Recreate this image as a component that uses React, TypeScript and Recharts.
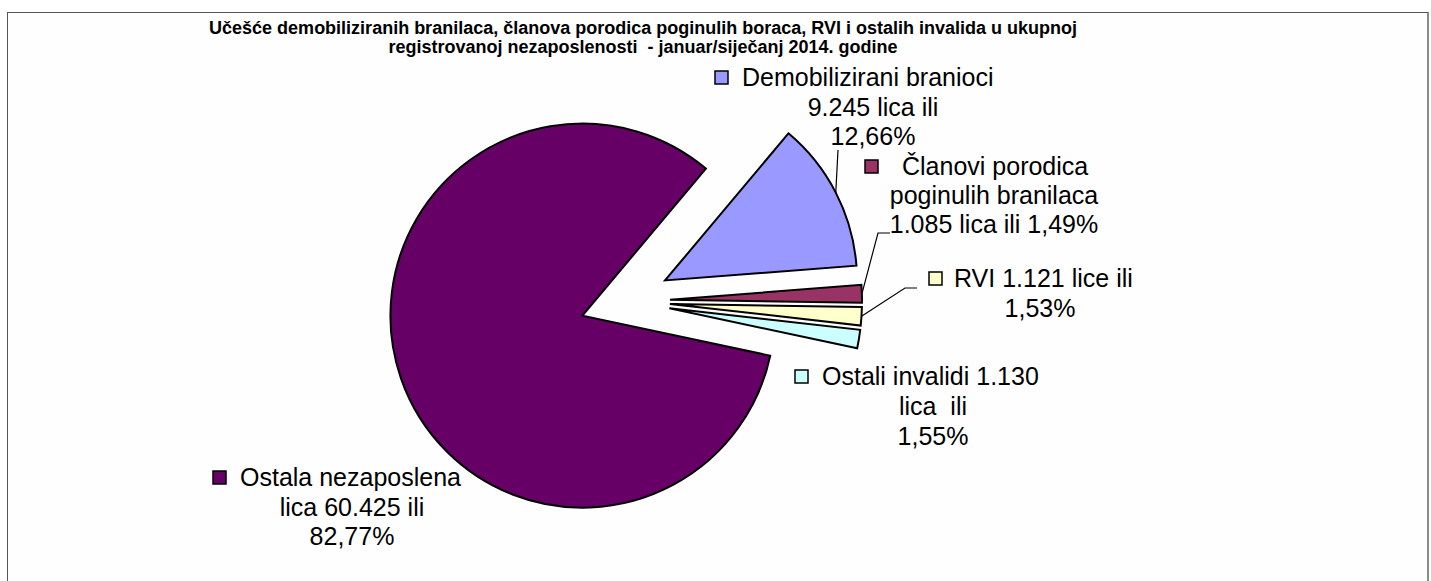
import React from 'react';
import { PieChart, Pie, Cell, Sector, Tooltip } from 'recharts';

// ---------- data ----------
const categories = [
  'Demobilizirani branioci',
  'Članovi porodica poginulih branilaca',
  'RVI',
  'Ostali invalidi',
  'Ostala nezaposlena lica',
];
const values = [9245, 1085, 1121, 1130, 60425];
const labelLines: string[][] = [
  ['Demobilizirani branioci', '9.245 lica ili', '12,66%'],
  ['Članovi porodica', 'poginulih branilaca', '1.085 lica ili 1,49%'],
  ['RVI 1.121 lice ili', '1,53%'],
  ['Ostali invalidi 1.130', 'lica  ili', '1,55%'],
  ['Ostala nezaposlena', 'lica 60.425 ili', '82,77%'],
];
const titleLines = [
  'Učešće demobiliziranih branilaca, članova porodica poginulih boraca, RVI i ostalih invalida u ukupnoj',
  'registrovanoj nezaposlenosti  - januar/siječanj 2014. godine',
];
const colors = ['#9999FF', '#993366', '#FFFFCC', '#CCFFFF', '#660066'];

const data = categories.map((name, i) => ({ name, value: values[i] }));

// ---------- layout ----------
const W = 1431;
const H = 581;
const CX = 625;
const CY = 301;
const R = 192;
const EXPLODE = 45;
const RAD = Math.PI / 180;
const FONT = '"Liberation Sans", Arial, Helvetica, sans-serif';
const LABEL_SIZE = 25;

type Layout = {
  keyX: number;
  baseline: number;
  firstX: number;
  centerX: number;
  lineH: number;
  leader: number[][] | null;
};
const labelLayout: Layout[] = [
  { keyX: 715, baseline: 86, firstX: 742, centerX: 873, lineH: 29.5, leader: [[838, 150]] },
  { keyX: 865, baseline: 175, firstX: 902, centerX: 994, lineH: 29, leader: [[890, 233], [878, 233]] },
  { keyX: 929, baseline: 287, firstX: 954, centerX: 1040, lineH: 29.5, leader: [[917, 288], [905, 288]] },
  { keyX: 795, baseline: 385, firstX: 822, centerX: 933, lineH: 30, leader: null },
  { keyX: 213, baseline: 486, firstX: 240, centerX: 352, lineH: 29.5, leader: null },
];

const offsetFor = (midAngle: number) => {
  const a = -midAngle * RAD;
  return { dx: EXPLODE * Math.cos(a), dy: EXPLODE * Math.sin(a) };
};

const ExplodedSector = (props: any) => {
  const { cx, cy, midAngle } = props;
  const { dx, dy } = offsetFor(midAngle);
  return (
    <Sector
      cx={cx + dx}
      cy={cy + dy}
      innerRadius={props.innerRadius}
      outerRadius={props.outerRadius}
      startAngle={props.startAngle}
      endAngle={props.endAngle}
      fill={props.fill}
      stroke="#000"
      strokeWidth={2}
      strokeLinejoin="miter"
    />
  );
};

const renderLabel = (props: any) => {
  const { cx, cy, midAngle, outerRadius, index } = props;
  const L = labelLayout[index];
  const lines = labelLines[index];
  const { dx, dy } = offsetFor(midAngle);
  const a = -midAngle * RAD;
  const ax = cx + dx + outerRadius * Math.cos(a);
  const ay = cy + dy + outerRadius * Math.sin(a);
  let leader = null;
  if (L.leader) {
    const pts = [...L.leader, [ax, ay]].map((p) => p.join(',')).join(' ');
    leader = <polyline points={pts} fill="none" stroke="#000" strokeWidth={1.2} />;
  }
  return (
    <g key={`lbl-${index}`}>
      {leader}
      <rect
        x={L.keyX}
        y={L.baseline - 15}
        width={13}
        height={13}
        fill={colors[index]}
        stroke="#000"
        strokeWidth={1.5}
      />
      <text x={L.firstX} y={L.baseline} fontSize={LABEL_SIZE} fontFamily={FONT} fill="#000">
        {lines[0]}
      </text>
      {lines.slice(1).map((t, j) => (
        <text
          key={j}
          x={L.centerX}
          y={L.baseline + (j + 1) * L.lineH}
          fontSize={LABEL_SIZE}
          fontFamily={FONT}
          fill="#000"
          textAnchor="middle"
          style={{ whiteSpace: 'pre' }}
        >
          {t}
        </text>
      ))}
    </g>
  );
};

export default function App() {
  return (
    <div
      style={{
        position: 'absolute',
        left: 0,
        top: 0,
        width: W,
        height: H,
        overflow: 'hidden',
        background: '#fff',
      }}
    >
      <div
        style={{
          position: 'absolute',
          left: 7,
          top: 12,
          width: 1419,
          height: 640,
          borderTop: '1px solid #555',
          borderLeft: '1px solid #555',
          borderRight: '2px solid #8a8a8a',
          background: '#fefefe',
        }}
      />
      <div
        style={{
          position: 'absolute',
          left: 0,
          top: 19,
          width: 1286,
          textAlign: 'center',
          fontFamily: FONT,
          fontWeight: 'bold',
          fontSize: 18,
          lineHeight: '19px',
          color: '#000',
          whiteSpace: 'pre',
        }}
      >
        {titleLines.map((t, i) => (
          <div key={i}>{t}</div>
        ))}
      </div>
      <div style={{ position: 'absolute', left: 0, top: 0 }}>
        <PieChart width={W} height={H} margin={{ top: 0, right: 0, bottom: 0, left: 0 }}>
          <Pie
            data={data}
            dataKey="value"
            nameKey="name"
            cx={CX}
            cy={CY}
            innerRadius={0}
            outerRadius={R}
            startAngle={50}
            endAngle={-310}
            isAnimationActive={false}
            stroke="#000"
            strokeWidth={2}
            shape={ExplodedSector}
            activeShape={ExplodedSector}
            inactiveShape={ExplodedSector}
            label={renderLabel}
            labelLine={false}
          >
            {data.map((d, i) => (
              <Cell key={d.name} fill={colors[i]} />
            ))}
          </Pie>
          <Tooltip defaultIndex={0} content={() => null} cursor={false} />
        </PieChart>
      </div>
    </div>
  );
}
